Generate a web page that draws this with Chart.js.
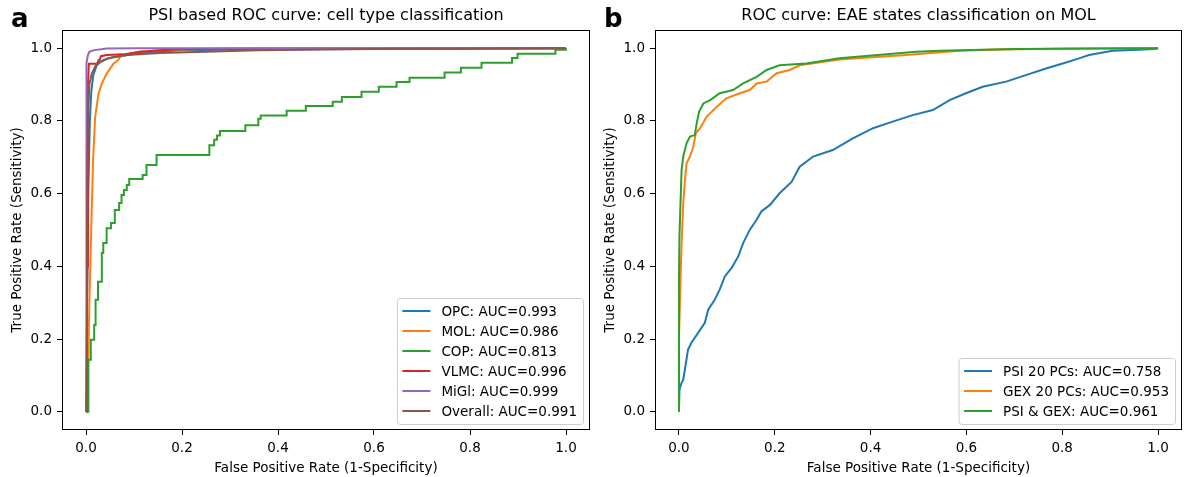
<!DOCTYPE html>
<html>
<head>
<meta charset="utf-8">
<script src="https://cdn.jsdelivr.net/npm/chart.js@4"></script>
<style>
  body { margin: 0; background: #fff; width: 1187px; height: 477px; position: relative; overflow: hidden; }
  canvas { position: absolute; top: 0; }
  #panelA { left: 0; }
  #panelB { left: 593px; }
</style>
</head>
<body>
<canvas id="panelA" width="593" height="477"></canvas>
<canvas id="panelB" width="594" height="477"></canvas>
<script>
// --- DATA ---
const tickVals = [0, 0.2, 0.4, 0.6, 0.8, 1.0];

// panel a: PSI based, cell types
const opcX = [0, 0.002, 0.004, 0.005, 0.008, 0.011, 0.015, 0.022, 0.03, 0.045, 0.08, 0.12, 0.2, 0.4, 1.0];
const opcY = [0, 0.3, 0.5, 0.62, 0.8, 0.88, 0.925, 0.952, 0.962, 0.972, 0.98, 0.988, 0.994, 0.998, 1.0];

const molX = [0, 0.003, 0.005, 0.007, 0.009, 0.012, 0.015, 0.019, 0.026, 0.033, 0.043, 0.057, 0.067, 0.071, 0.09, 0.112, 0.16, 0.3, 1.0];
const molY = [0, 0.08, 0.15, 0.3, 0.4, 0.56, 0.7, 0.81, 0.875, 0.903, 0.93, 0.957, 0.967, 0.976, 0.984, 0.99, 0.995, 0.999, 1.0];

// COP is a staircase: each point = (fpr where the step rises, tpr after it)
const copX = [0, 0.005, 0.005, 0.01, 0.017, 0.02, 0.025, 0.033, 0.036, 0.043, 0.052, 0.06, 0.069, 0.074, 0.079, 0.085, 0.09, 0.118, 0.126, 0.147,
  0.257, 0.267, 0.273, 0.279, 0.332, 0.359, 0.364, 0.418, 0.458, 0.514, 0.533, 0.574, 0.61, 0.647, 0.674, 0.747, 0.781, 0.824, 0.8875, 0.899, 0.978, 1.0];
const copY = [0, 0.01, 0.143, 0.198, 0.239, 0.308, 0.358, 0.437, 0.464, 0.505, 0.519, 0.555, 0.574, 0.596, 0.61, 0.624, 0.64, 0.651, 0.679, 0.706,
  0.733, 0.748, 0.76, 0.772, 0.788, 0.806, 0.815, 0.828, 0.841, 0.853, 0.866, 0.88, 0.894, 0.907, 0.919, 0.933, 0.946, 0.96, 0.973, 0.985, 0.996, 1.0];

const vlmcX = [0, 0.003, 0.004, 0.006, 0.024, 0.026, 0.029, 0.031, 0.043, 0.078, 0.112, 0.165, 0.2, 1.0];
const vlmcY = [0, 0.4, 0.9, 0.957, 0.957, 0.967, 0.969, 0.978, 0.981, 0.983, 0.99, 0.995, 0.998, 1.0];

const miglX = [0, 0.0, 0.002, 0.004, 0.007, 0.015, 0.043, 0.1, 1.0];
const miglY = [0, 0.6, 0.96, 0.981, 0.99, 0.994, 0.999, 1.0, 1.0];

const allX = [0, 0.002, 0.004, 0.007, 0.012, 0.022, 0.036, 0.057, 0.085, 0.154, 0.36, 0.6, 1.0];
const allY = [0, 0.5, 0.8, 0.9, 0.93, 0.957, 0.967, 0.976, 0.981, 0.987, 0.994, 0.998, 1.0];

const cellLabels = ['OPC: AUC=0.993', 'MOL: AUC=0.986', 'COP: AUC=0.813', 'VLMC: AUC=0.996', 'MiGl: AUC=0.999', 'Overall: AUC=0.991'];

// panel b: EAE states on MOL
const psiX = [0, 0.001, 0.004, 0.009, 0.0125, 0.019, 0.026, 0.04, 0.054, 0.061, 0.075, 0.085, 0.096, 0.11, 0.124, 0.134, 0.148, 0.162, 0.172, 0.19,
  0.21, 0.235, 0.252, 0.28, 0.321, 0.363, 0.405, 0.446, 0.488, 0.53, 0.565, 0.599, 0.634, 0.683, 0.724, 0.766, 0.801, 0.835, 0.856, 0.905, 0.96, 0.99, 1.0];
const psiY = [0, 0.06, 0.075, 0.089, 0.117, 0.171, 0.19, 0.217, 0.245, 0.281, 0.309, 0.336, 0.373, 0.396, 0.428, 0.464, 0.501, 0.528, 0.551, 0.569,
  0.601, 0.632, 0.674, 0.702, 0.72, 0.752, 0.78, 0.798, 0.816, 0.83, 0.857, 0.876, 0.894, 0.908, 0.926, 0.944, 0.958, 0.972, 0.981, 0.993, 0.996, 0.998, 1.0];

const gexX = [0, 0.0, 0.002, 0.004, 0.0055, 0.009, 0.0125, 0.016, 0.023, 0.03, 0.035, 0.044, 0.058, 0.079, 0.099, 0.127, 0.148, 0.162, 0.183, 0.204,
  0.231, 0.252, 0.335, 0.474, 0.585, 0.648, 0.808, 0.9, 1.0];
const gexY = [0, 0.2, 0.3, 0.4, 0.464, 0.574, 0.638, 0.684, 0.702, 0.729, 0.766, 0.78, 0.812, 0.839, 0.862, 0.876, 0.885, 0.903, 0.908, 0.931,
  0.94, 0.953, 0.969, 0.981, 0.993, 0.996, 0.999, 1.0, 1.0];

const bothX = [0, 0, 0.001, 0.003, 0.0055, 0.009, 0.016, 0.023, 0.033, 0.037, 0.042, 0.051, 0.065, 0.085, 0.113, 0.134, 0.162, 0.183, 0.21, 0.266,
  0.335, 0.495, 0.544, 0.7, 1.0];
const bothY = [0, 0.36, 0.482, 0.565, 0.665, 0.702, 0.739, 0.757, 0.761, 0.793, 0.825, 0.848, 0.857, 0.876, 0.885, 0.903, 0.921, 0.94, 0.953, 0.958,
  0.972, 0.99, 0.993, 0.998, 1.0];

const eaeLabels = ['PSI 20 PCs: AUC=0.758', 'GEX 20 PCs: AUC=0.953', 'PSI & GEX: AUC=0.961'];

const tab10 = ['#1f77b4', '#ff7f0e', '#2ca02c', '#d62728', '#9467bd', '#8c564b'];

Chart.defaults.font.family = "'DejaVu Sans', sans-serif";
Chart.defaults.color = '#000';

function pts(xs, ys) { return xs.map((x, i) => ({ x: x, y: ys[i] })); }

// frame on all 4 sides, matplotlib-like legend in lower right, panel letter
const mplBits = {
  id: 'mplBits',
  afterDatasetsDraw(chart, args, opts) {
    const ctx = chart.ctx, a = chart.chartArea;
    ctx.save();
    ctx.strokeStyle = '#000';
    ctx.lineWidth = 1;
    ctx.strokeRect(Math.round(a.left) + 0.5, Math.round(a.top) + 0.5, Math.round(a.width) - 1, Math.round(a.height) - 1);

    const sets = chart.data.datasets;
    ctx.font = '13.5px "DejaVu Sans"';
    let tw = 0;
    sets.forEach(d => { tw = Math.max(tw, ctx.measureText(d.label).width); });
    const w = 5.5 + 28 + 11 + tw + 6;
    const h = sets.length * 20 + 6;
    const x0 = a.right - 7 - w, y0 = a.bottom - 6 - h;
    ctx.beginPath();
    ctx.roundRect(x0 + 0.5, y0 + 0.5, w, h, 3);
    ctx.fillStyle = 'rgba(255,255,255,0.8)';
    ctx.fill();
    ctx.strokeStyle = '#cccccc';
    ctx.stroke();
    sets.forEach((d, i) => {
      const cy = y0 + 13 + i * 20;
      ctx.beginPath();
      ctx.strokeStyle = d.borderColor;
      ctx.lineWidth = 2;
      ctx.moveTo(x0 + 5.5, cy);
      ctx.lineTo(x0 + 33.5, cy);
      ctx.stroke();
      ctx.fillStyle = '#000';
      ctx.textBaseline = 'middle';
      ctx.fillText(d.label, x0 + 44.5, cy + 1);
    });

    ctx.font = 'bold 26px "DejaVu Sans"';
    ctx.textBaseline = 'alphabetic';
    ctx.fillText(opts.letter, opts.letterX, 27);
    ctx.restore();
  }
};

function makePanel(id, title, xsList, ysList, labels, letter, letterX, padRight, steppedIdx) {
  const n = labels.length;
  const datasets = labels.map((lab, i) => ({
    label: lab,
    data: pts(xsList[i], ysList[i]),
    showLine: true,
    borderColor: tab10[i],
    backgroundColor: tab10[i],
    borderWidth: 2,
    pointRadius: 0,
    fill: false,
    stepped: i === steppedIdx ? 'before' : false,
    order: n - i
  }));
  const axisCommon = {
    type: 'linear',
    min: -0.05,
    max: 1.05,
    afterBuildTicks: s => { s.ticks = tickVals.map(v => ({ value: v })); },
    ticks: { callback: v => v.toFixed(1), font: { size: 13.5 }, color: '#000', padding: 5 },
    grid: { drawOnChartArea: false, drawTicks: true, tickLength: 5, color: '#000', lineWidth: 1 },
    border: { display: false }
  };
  return new Chart(document.getElementById(id), {
    type: 'scatter',
    data: { datasets: datasets },
    options: {
      responsive: false,
      animation: false,
      devicePixelRatio: 1,
      events: [],
      layout: { padding: { left: 0, right: padRight, top: 0, bottom: 0 } },
      scales: {
        x: Object.assign({}, axisCommon, {
          position: 'bottom',
          afterFit: s => { s.height = 47; },
          title: { display: true, text: 'False Positive Rate (1-Specificity)', font: { size: 13.5 }, color: '#000', padding: { top: 3, bottom: 0 } }
        }),
        y: Object.assign({}, axisCommon, {
          position: 'left',
          afterFit: s => { s.width = 62; },
          title: { display: true, text: 'True Positive Rate (Sensitivity)', font: { size: 13.5 }, color: '#000', padding: { top: 9.5, bottom: 0 } }
        })
      },
      plugins: {
        legend: { display: false },
        tooltip: { enabled: false },
        title: { display: true, fullSize: false, text: title, font: { size: 16, weight: 'normal' }, color: '#000', padding: { top: 6.5, bottom: 4.3 } },
        mplBits: { letter: letter, letterX: letterX }
      }
    },
    plugins: [mplBits]
  });
}

makePanel('panelA', 'PSI based ROC curve: cell type classification',
  [opcX, molX, copX, vlmcX, miglX, allX], [opcY, molY, copY, vlmcY, miglY, allY],
  cellLabels, 'a', 11, 3, 2);

makePanel('panelB', 'ROC curve: EAE states classification on MOL',
  [psiX, gexX, bothX], [psiY, gexY, bothY],
  eaeLabels, 'b', 11, 5, -1);
</script>
</body>
</html>
